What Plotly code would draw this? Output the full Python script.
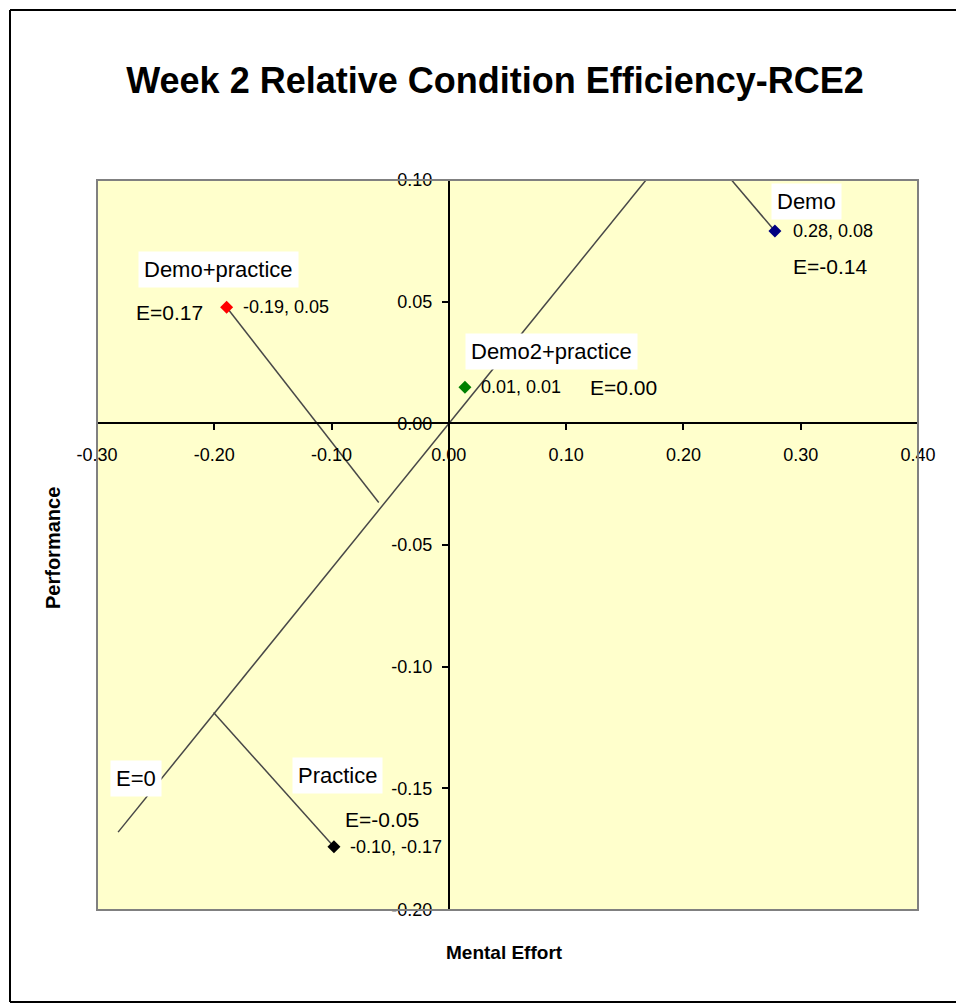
import plotly.graph_objects as go

# ── Data ──────────────────────────────────────────────────────────────────────
CONDITIONS  = ["Demo", "Demo+practice", "Demo2+practice", "Practice"]
EFFORT      = [0.278, -0.1895, 0.0137, -0.098]
PERFORMANCE = [0.079, 0.0477, 0.0148, -0.174]
EFFICIENCY  = ["-0.14", "0.17", "0.00", "-0.05"]

# end of each condition's drop line towards the E=0 line
FOOT_X = [0.204, -0.0598, None, -0.2006]
FOOT_Y = [0.121, -0.0325, None, -0.1188]

# E=0 reference line
E0_X = [-0.282, 0.20]
E0_Y = [-0.168, 0.119]

X_TICKS = [-0.30, -0.20, -0.10, 0.00, 0.10, 0.20, 0.30, 0.40]
Y_TICKS = [-0.20, -0.15, -0.10, -0.05, 0.00, 0.05, 0.10]

# ── Style ─────────────────────────────────────────────────────────────────────
COLORS  = ["#000080", "#FF0000", "#008000", "#000000"]
PLOT_BG = "#FFFFCC"
LINE    = "#484848"
FONT    = "Liberation Sans, Arial, sans-serif"

# label offsets in px: value (dx, dy), E (dx, dy, anchor), name (dx, dy)
VAL_OFF  = [(16, 0), (14, 0), (14, 0), (14, 0)]
E_OFF    = [(16, -35, "left"), (-22, -5, "right"), (123, 0, "left"), (9, 27, "left")]
NAME_OFF = [(32, 30), (-8, 38), (87, 36), (4, 71)]

# page body margin is removed below, so the figure fills the window
W, H = 956, 1003
L, R, T, B = 97, W - 918, 180, H - 910
PW, PH = W - L - R, H - T - B


def px(x):   # screen x -> paper x
    return (x - L) / PW


def py(y):   # screen y -> paper y
    return ((H - B) - y) / PH


fig = go.Figure()

# E=0 line
fig.add_trace(go.Scatter(
    x=E0_X, y=E0_Y, mode="lines",
    line=dict(color=LINE, width=1.5), hoverinfo="skip", showlegend=False,
))

# drop lines
for i, name in enumerate(CONDITIONS):
    if FOOT_X[i] is None:
        continue
    fig.add_trace(go.Scatter(
        x=[EFFORT[i], FOOT_X[i]], y=[PERFORMANCE[i], FOOT_Y[i]], mode="lines",
        line=dict(color=LINE, width=1.5), hoverinfo="skip", showlegend=False,
    ))

# condition points + labels
for i, name in enumerate(CONDITIONS):
    fig.add_trace(go.Scatter(
        x=[EFFORT[i]], y=[PERFORMANCE[i]], mode="markers", name=name,
        marker=dict(symbol="diamond", size=10, color=COLORS[i]),
        showlegend=False,
    ))

    x, y = EFFORT[i], PERFORMANCE[i]
    fig.add_annotation(
        x=x, y=y, text=f"{x:.2f}, {y:.2f}", showarrow=False,
        xanchor="left", yanchor="middle",
        xshift=VAL_OFF[i][0], yshift=VAL_OFF[i][1],
        font=dict(family=FONT, size=18, color="black"),
    )
    ex, ey, eanchor = E_OFF[i]
    fig.add_annotation(
        x=x, y=y, text=f"E={EFFICIENCY[i]}", showarrow=False,
        xanchor=eanchor, yanchor="middle", xshift=ex, yshift=ey,
        font=dict(family=FONT, size=21, color="black"),
    )
    fig.add_annotation(
        x=x, y=y, text=name, showarrow=False,
        xanchor="center", yanchor="middle",
        xshift=NAME_OFF[i][0], yshift=NAME_OFF[i][1],
        bgcolor="white", borderpad=5,
        font=dict(family=FONT, size=22, color="black"),
    )

# E=0 label
fig.add_annotation(
    x=-0.267, y=-0.146, text="E=0", showarrow=False,
    xanchor="center", yanchor="middle",
    bgcolor="white", borderpad=5,
    font=dict(family=FONT, size=22, color="black"),
)

# axis titles
fig.add_annotation(
    xref="paper", yref="paper", x=px(504), y=py(952),
    xanchor="center", yanchor="middle",
    text="<b>Mental Effort</b>", showarrow=False,
    font=dict(family=FONT, size=19, color="black"),
)
fig.add_annotation(
    xref="paper", yref="paper", x=px(53), y=py(548),
    xanchor="center", yanchor="middle",
    text="<b>Performance</b>", showarrow=False, textangle=-90,
    font=dict(family=FONT, size=20, color="black"),
)

# plot-area frame
fig.add_shape(type="rect", xref="paper", yref="paper", x0=0, x1=1, y0=0, y1=1,
              line=dict(color="#808080", width=2), layer="above")
# outer chart border (left, top, bottom; runs to the right edge)
for x0, y0, x1, y1 in [(10, 10, 10, 1002), (10, 10, W, 10), (10, 1002, W, 1002)]:
    fig.add_shape(type="line", xref="paper", yref="paper",
                  x0=px(x0), y0=py(y0), x1=px(x1), y1=py(y1),
                  line=dict(color="black", width=2))

tickfont = dict(family=FONT, size=18, color="black")
fig.update_layout(
    width=W, height=H,
    margin=dict(l=L, r=R, t=T, b=B),
    paper_bgcolor="white", plot_bgcolor=PLOT_BG,
    title=dict(text="<b>Week 2 Relative Condition Efficiency-RCE2</b>",
               x=495 / W, xanchor="center",
               y=1 - 80 / H, yanchor="middle",
               font=dict(family=FONT, size=36, color="black")),
    xaxis=dict(
        range=[X_TICKS[0], X_TICKS[-1]], anchor="free",
        position=(0 - Y_TICKS[0]) / (Y_TICKS[-1] - Y_TICKS[0]),
        tickvals=X_TICKS, ticktext=[f"{v:.2f}" for v in X_TICKS],
        ticks="outside", ticklen=6, tickwidth=2, tickcolor="black",
        showline=True, linecolor="black", linewidth=2,
        showgrid=False, zeroline=False, tickfont=tickfont, ticklabelstandoff=9,
    ),
    yaxis=dict(
        range=[Y_TICKS[0], Y_TICKS[-1]], anchor="free",
        position=(0 - X_TICKS[0]) / (X_TICKS[-1] - X_TICKS[0]),
        tickvals=Y_TICKS, ticktext=[f"{v:.2f}" for v in Y_TICKS],
        ticks="outside", ticklen=6, tickwidth=2, tickcolor="black",
        showline=True, linecolor="black", linewidth=2,
        showgrid=False, zeroline=False, tickfont=tickfont, ticklabelstandoff=6,
    ),
)

fig.write_html(
    "out.html",
    config={"displayModeBar": False},
    post_script="document.body.style.margin='0';document.body.style.overflow='hidden';",
)
